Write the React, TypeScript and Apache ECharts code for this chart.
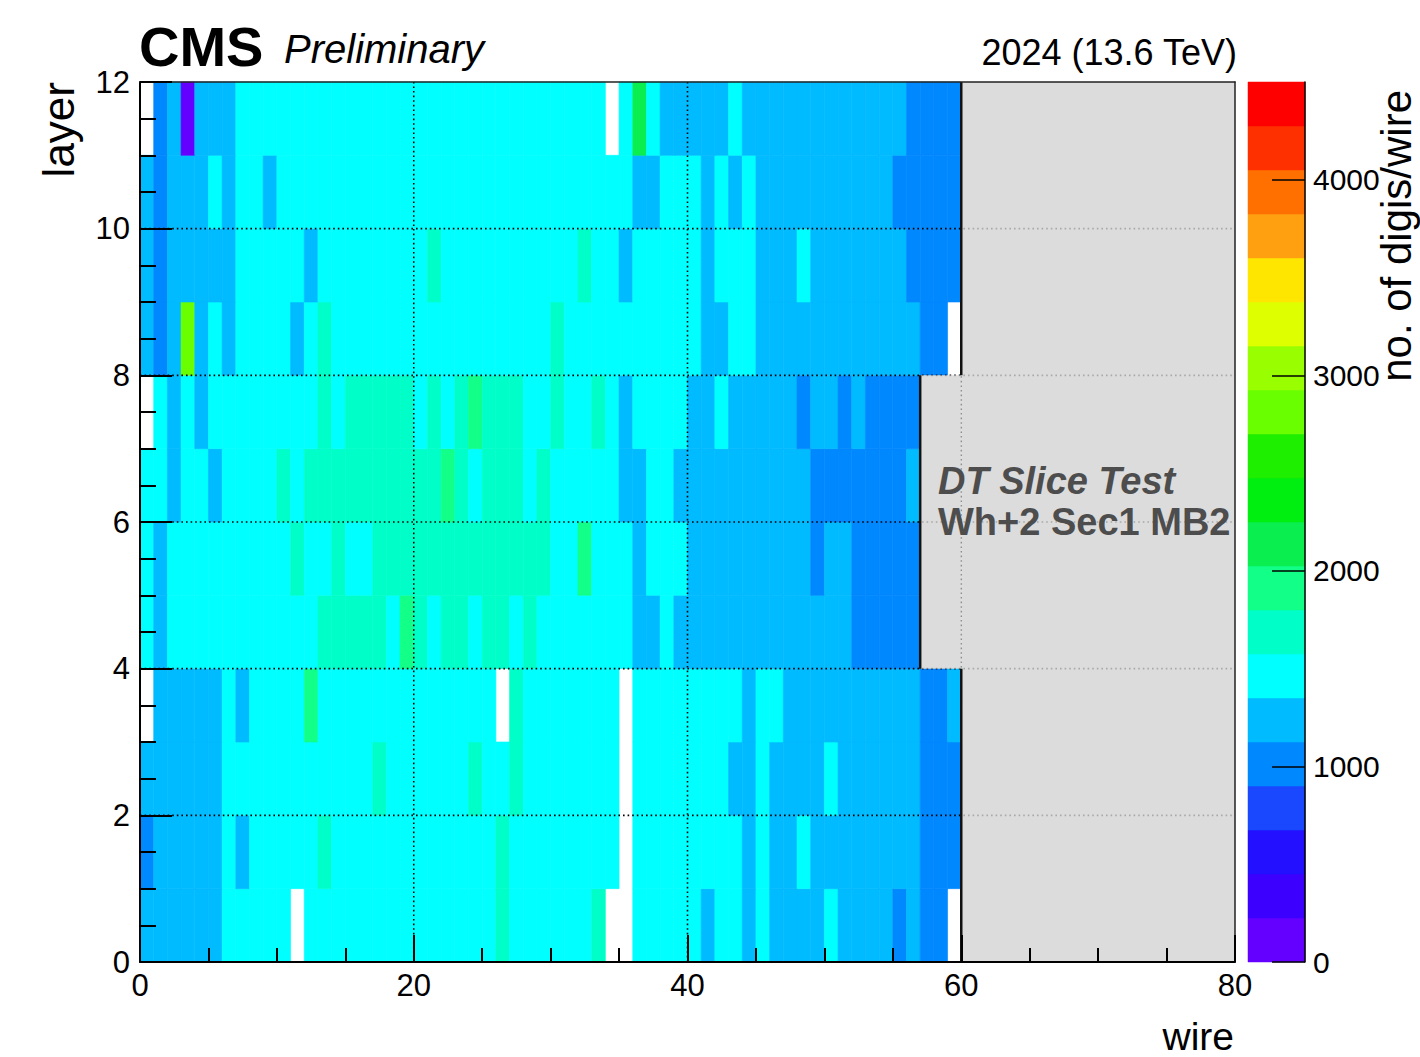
import React, { useEffect, useRef } from "react";
import * as echarts from "echarts";

// Digis per wire (band representative values).
// Index = wire (0..59). Layers 4..7 have only wires 0..56. null = empty (white) cell.
const LAYER_0 = [
  1240, 1240, 1240, 1240, 1240, 1240, 1460, 1460, 1460, 1460,
  1460, null, 1460, 1460, 1460, 1460, 1460, 1460, 1460, 1460,
  1460, 1460, 1460, 1460, 1460, 1460, 1690, 1460, 1460, 1460,
  1460, 1460, 1460, 1690, null, null, 1460, 1460, 1460, 1460,
  1460, 1240, 1460, 1460, 1240, 1460, 1240, 1240, 1240, 1240,
  1460, 1240, 1240, 1240, 1240, 1010, 1240, 1010, 1010, null,
];
const LAYER_1 = [
  1010, 1240, 1240, 1240, 1240, 1240, 1460, 1240, 1460, 1460,
  1460, 1460, 1460, 1690, 1460, 1460, 1460, 1460, 1460, 1460,
  1460, 1460, 1460, 1460, 1460, 1460, 1690, 1460, 1460, 1460,
  1460, 1460, 1460, 1460, 1460, null, 1460, 1460, 1460, 1460,
  1460, 1460, 1460, 1460, 1240, 1460, 1240, 1240, 1460, 1240,
  1240, 1240, 1240, 1240, 1240, 1240, 1240, 1010, 1010, 1010,
];
const LAYER_2 = [
  1240, 1240, 1240, 1240, 1240, 1240, 1460, 1460, 1460, 1460,
  1460, 1460, 1460, 1460, 1460, 1460, 1460, 1690, 1460, 1460,
  1460, 1460, 1460, 1460, 1690, 1460, 1460, 1690, 1460, 1460,
  1460, 1460, 1460, 1460, 1460, null, 1460, 1460, 1460, 1460,
  1460, 1460, 1460, 1240, 1240, 1460, 1240, 1240, 1240, 1240,
  1460, 1240, 1240, 1240, 1240, 1240, 1240, 1010, 1010, 1010,
];
const LAYER_3 = [
  null, 1240, 1240, 1240, 1240, 1240, 1460, 1240, 1460, 1460,
  1460, 1460, 1910, 1460, 1460, 1460, 1460, 1460, 1460, 1460,
  1460, 1460, 1460, 1460, 1460, 1460, null, 1690, 1460, 1460,
  1460, 1460, 1460, 1460, 1460, null, 1460, 1460, 1460, 1460,
  1460, 1460, 1460, 1460, 1240, 1460, 1460, 1240, 1240, 1240,
  1240, 1240, 1240, 1240, 1240, 1240, 1240, 1010, 1010, 1240,
];
const LAYER_4 = [
  1460, 1240, 1460, 1460, 1460, 1460, 1460, 1460, 1460, 1460,
  1460, 1460, 1460, 1690, 1690, 1690, 1690, 1690, 1460, 1910,
  1690, 1460, 1690, 1690, 1460, 1690, 1690, 1460, 1690, 1460,
  1460, 1460, 1460, 1460, 1460, 1460, 1240, 1240, 1460, 1240,
  1240, 1240, 1240, 1240, 1240, 1240, 1240, 1240, 1240, 1240,
  1240, 1240, 1010, 1010, 1010, 1010, 1010,
];
const LAYER_5 = [
  1460, 1240, 1460, 1460, 1460, 1460, 1460, 1460, 1460, 1460,
  1460, 1690, 1460, 1460, 1690, 1460, 1460, 1690, 1690, 1690,
  1690, 1690, 1690, 1690, 1690, 1690, 1690, 1690, 1690, 1690,
  1460, 1460, 1910, 1460, 1460, 1460, 1240, 1460, 1460, 1460,
  1240, 1240, 1240, 1240, 1240, 1240, 1240, 1240, 1240, 1010,
  1240, 1240, 1010, 1010, 1010, 1010, 1010,
];
const LAYER_6 = [
  1460, 1460, 1240, 1460, 1460, 1240, 1460, 1460, 1460, 1460,
  1690, 1460, 1690, 1690, 1690, 1690, 1690, 1690, 1690, 1690,
  1690, 1690, 1910, 1690, 1460, 1690, 1690, 1690, 1460, 1690,
  1460, 1460, 1460, 1460, 1460, 1240, 1240, 1460, 1460, 1240,
  1240, 1240, 1240, 1240, 1240, 1240, 1240, 1240, 1240, 1010,
  1010, 1010, 1010, 1010, 1010, 1010, 1240,
];
const LAYER_7 = [
  null, 1460, 1240, 1460, 1240, 1460, 1460, 1460, 1460, 1460,
  1460, 1460, 1460, 1690, 1460, 1690, 1690, 1690, 1690, 1690,
  1460, 1690, 1460, 1690, 1910, 1690, 1690, 1690, 1460, 1460,
  1690, 1460, 1460, 1690, 1460, 1240, 1460, 1460, 1460, 1460,
  1240, 1240, 1460, 1240, 1240, 1240, 1240, 1240, 1010, 1240,
  1240, 1010, 1240, 1010, 1010, 1010, 1010,
];
const LAYER_8 = [
  1240, 1010, 1240, 2810, 1240, 1460, 1240, 1460, 1460, 1460,
  1460, 1240, 1460, 1690, 1460, 1460, 1460, 1460, 1460, 1460,
  1460, 1460, 1460, 1460, 1460, 1460, 1460, 1460, 1460, 1460,
  1690, 1460, 1460, 1460, 1460, 1460, 1460, 1460, 1460, 1460,
  1460, 1240, 1240, 1460, 1460, 1240, 1240, 1240, 1240, 1240,
  1240, 1240, 1240, 1240, 1240, 1240, 1240, 1010, 1010, null,
];
const LAYER_9 = [
  1240, 1010, 1240, 1240, 1240, 1240, 1240, 1460, 1460, 1460,
  1460, 1460, 1240, 1460, 1460, 1460, 1460, 1460, 1460, 1460,
  1460, 1690, 1460, 1460, 1460, 1460, 1460, 1460, 1460, 1460,
  1460, 1460, 1690, 1460, 1460, 1240, 1460, 1460, 1460, 1460,
  1460, 1240, 1460, 1460, 1460, 1240, 1240, 1240, 1460, 1240,
  1240, 1240, 1240, 1240, 1240, 1240, 1010, 1010, 1010, 1010,
];
const LAYER_10 = [
  1240, 1010, 1240, 1240, 1240, 1460, 1240, 1460, 1460, 1240,
  1460, 1460, 1460, 1460, 1460, 1460, 1460, 1460, 1460, 1460,
  1460, 1460, 1460, 1460, 1460, 1460, 1460, 1460, 1460, 1460,
  1460, 1460, 1460, 1460, 1460, 1460, 1240, 1240, 1460, 1460,
  1460, 1240, 1460, 1240, 1460, 1240, 1240, 1240, 1240, 1240,
  1240, 1240, 1240, 1240, 1240, 1010, 1010, 1010, 1010, 1010,
];
const LAYER_11 = [
  null, 1010, 1240, 150, 1240, 1240, 1240, 1460, 1460, 1460,
  1460, 1460, 1460, 1460, 1460, 1460, 1460, 1460, 1460, 1460,
  1460, 1460, 1460, 1460, 1460, 1460, 1460, 1460, 1460, 1460,
  1460, 1460, 1460, 1460, null, 1460, 2130, 1460, 1240, 1240,
  1240, 1240, 1240, 1460, 1240, 1240, 1240, 1240, 1240, 1240,
  1240, 1240, 1240, 1240, 1240, 1240, 1010, 1010, 1010, 1010,
];
const LAYERS = [
  LAYER_0, LAYER_1, LAYER_2, LAYER_3, LAYER_4, LAYER_5,
  LAYER_6, LAYER_7, LAYER_8, LAYER_9, LAYER_10, LAYER_11,
];

// ROOT-like rainbow palette, 20 contours from 0 to 4500
const PALETTE = [
  "#6400ff", "#3c00ff", "#2210ff", "#1a48ff", "#0088ff",
  "#00bbff", "#00ffff", "#00ffc8", "#12ff88", "#0aee50",
  "#00ee10", "#1eee00", "#6aff00", "#99ff00", "#ddff00",
  "#ffe600", "#ffa010", "#ff7000", "#ff3000", "#ff0000",
];
const Z_MIN = 0;
const Z_MAX = 4500;
const Z_TICKS = [0, 1000, 2000, 3000, 4000];

const WIRE_MIN = 0;
const WIRE_MAX = 80;
const LAYER_MIN = 0;
const LAYER_MAX = 12;
const GRID_X = [20, 40, 60];
const GRID_Y = [2, 4, 6, 8, 10];
// inactive region masks [x0, x1, y0, y1] and their left edges [x1, y1, x2, y2]
const MASK_BOXES = [
  [60, 80, 0, 12],
  [57, 60, 4, 8],
];
const MASK_EDGES = [
  [60, 0, 60, 4],
  [60, 8, 60, 12],
  [57, 4, 57, 8],
];

const FONT = "Liberation Sans, Arial, Helvetica, sans-serif";

export default function App() {
  const ref = useRef<HTMLDivElement>(null);

  useEffect(() => {
    if (!ref.current) return;
    const chart = echarts.init(ref.current, undefined, { renderer: "svg" });

    const bw = (Z_MAX - Z_MIN) / PALETTE.length;
    const colorFor = (v: number) =>
      PALETTE[Math.max(0, Math.min(PALETTE.length - 1, Math.floor((v - Z_MIN) / bw)))];

    const cells: number[][] = [];
    LAYERS.forEach((row, l) =>
      row.forEach((v, w) => {
        if (v !== null && v !== undefined) cells.push([w, l, v as number]);
      })
    );
    const gridLines = [
      ...GRID_X.map((x) => [x, LAYER_MIN, x, LAYER_MAX]),
      ...GRID_Y.map((y) => [WIRE_MIN, y, WIRE_MAX, y]),
    ];
    const bands = PALETTE.map((_, i) => [Z_MIN + i * bw, Z_MIN + (i + 1) * bw, i]);

    const lineRender = (style: any) => (_p: any, api: any) => {
      const a = api.coord([api.value(0), api.value(1)]);
      const b = api.coord([api.value(2), api.value(3)]);
      return {
        type: "line",
        shape: { x1: a[0], y1: a[1], x2: b[0], y2: b[1] },
        style,
      };
    };

    const axisBlack = { color: "#000", width: 2 };

    chart.setOption({
      animation: false,
      backgroundColor: "#fff",
      grid: [
        { left: 140, top: 82, width: 1095, height: 880 },
        { left: 1248, top: 82, width: 57, height: 880 },
      ],
      xAxis: [
        {
          gridIndex: 0,
          type: "value",
          min: WIRE_MIN,
          max: WIRE_MAX,
          interval: 20,
          position: "bottom",
          z: 10,
          axisLine: { show: true, onZero: false, lineStyle: axisBlack },
          axisTick: { show: true, inside: true, length: 27, lineStyle: axisBlack },
          minorTick: { show: true, splitNumber: 4, length: 14, lineStyle: axisBlack },
          axisLabel: { color: "#000", fontSize: 31, fontFamily: FONT, margin: 8 },
          splitLine: { show: false },
        },
        {
          gridIndex: 0,
          type: "value",
          min: WIRE_MIN,
          max: WIRE_MAX,
          position: "top",
          z: 10,
          axisLine: { show: true, onZero: false, lineStyle: { color: "#222", width: 1.5 } },
          axisTick: { show: false },
          axisLabel: { show: false },
          splitLine: { show: false },
        },
        { gridIndex: 1, type: "value", min: 0, max: 1, show: false },
      ],
      yAxis: [
        {
          gridIndex: 0,
          type: "value",
          min: LAYER_MIN,
          max: LAYER_MAX,
          interval: 2,
          position: "left",
          z: 10,
          axisLine: { show: true, onZero: false, lineStyle: axisBlack },
          axisTick: { show: true, inside: true, length: 32, lineStyle: axisBlack },
          minorTick: { show: true, splitNumber: 4, length: 16, lineStyle: axisBlack },
          axisLabel: { color: "#000", fontSize: 31, fontFamily: FONT, margin: 10 },
          splitLine: { show: false },
        },
        {
          gridIndex: 0,
          type: "value",
          min: LAYER_MIN,
          max: LAYER_MAX,
          position: "right",
          z: 10,
          axisLine: { show: true, onZero: false, lineStyle: { color: "#222", width: 1.5 } },
          axisTick: { show: false },
          axisLabel: { show: false },
          splitLine: { show: false },
        },
        {
          gridIndex: 1,
          type: "value",
          min: Z_MIN,
          max: Z_MAX,
          position: "right",
          z: 10,
          axisLine: { show: true, onZero: false, lineStyle: { color: "#000", width: 1.5 } },
          axisTick: {
            show: true,
            inside: true,
            length: 33,
            customValues: Z_TICKS,
            lineStyle: { color: "#000", width: 1.5 },
          },
          axisLabel: {
            color: "#000",
            fontSize: 30,
            fontFamily: FONT,
            margin: 8,
            customValues: Z_TICKS,
            formatter: (v: number) => String(v),
          },
          splitLine: { show: false },
        },
      ],
      series: [
        {
          type: "custom",
          name: "digis",
          xAxisIndex: 0,
          yAxisIndex: 0,
          z: 1,
          data: cells,
          renderItem: (_p: any, api: any) => {
            const w = api.value(0);
            const l = api.value(1);
            const c = colorFor(api.value(2));
            const a = api.coord([w, l]);
            const b = api.coord([w + 1, l + 1]);
            return {
              type: "rect",
              shape: { x: a[0], y: b[1], width: b[0] - a[0], height: a[1] - b[1] },
              style: { fill: c, stroke: c, lineWidth: 0.6 },
            };
          },
        },
        {
          type: "custom",
          name: "grid",
          xAxisIndex: 0,
          yAxisIndex: 0,
          z: 2,
          data: gridLines,
          renderItem: lineRender({ stroke: "#000", lineWidth: 1.6, lineDash: [1.6, 3] }),
        },
        {
          type: "custom",
          name: "mask",
          xAxisIndex: 0,
          yAxisIndex: 0,
          z: 3,
          data: MASK_BOXES,
          renderItem: (_p: any, api: any) => {
            const a = api.coord([api.value(0), api.value(2)]);
            const b = api.coord([api.value(1), api.value(3)]);
            return {
              type: "rect",
              shape: { x: a[0], y: b[1], width: b[0] - a[0], height: a[1] - b[1] },
              style: { fill: "rgba(211,211,211,0.8)" },
            };
          },
        },
        {
          type: "custom",
          name: "maskEdges",
          xAxisIndex: 0,
          yAxisIndex: 0,
          z: 4,
          data: MASK_EDGES,
          renderItem: lineRender({ stroke: "#111", lineWidth: 2.5 }),
        },
        {
          type: "custom",
          name: "palette",
          xAxisIndex: 2,
          yAxisIndex: 2,
          z: 1,
          data: bands,
          renderItem: (_p: any, api: any) => {
            const a = api.coord([0, api.value(0)]);
            const b = api.coord([1, api.value(1)]);
            const c = PALETTE[api.value(2)];
            return {
              type: "rect",
              shape: { x: a[0], y: b[1], width: b[0] - a[0], height: a[1] - b[1] },
              style: { fill: c, stroke: c, lineWidth: 0.5 },
            };
          },
        },
      ],
      graphic: [
        {
          type: "text",
          x: 139,
          y: 46,
          style: {
            text: "CMS",
            fontFamily: FONT,
            fontWeight: "bold",
            fontSize: 56,
            fill: "#000",
            align: "left",
            verticalAlign: "middle",
          },
        },
        {
          type: "text",
          x: 284,
          y: 49,
          style: {
            text: "Preliminary",
            fontFamily: FONT,
            fontStyle: "italic",
            fontSize: 40,
            fill: "#000",
            align: "left",
            verticalAlign: "middle",
          },
        },
        {
          type: "text",
          x: 1237,
          y: 52,
          style: {
            text: "2024 (13.6 TeV)",
            fontFamily: FONT,
            fontSize: 36,
            fill: "#000",
            align: "right",
            verticalAlign: "middle",
          },
        },
        {
          type: "text",
          x: 58,
          y: 82,
          rotation: Math.PI / 2,
          style: {
            text: "layer",
            fontFamily: FONT,
            fontSize: 44,
            fill: "#000",
            align: "right",
            verticalAlign: "middle",
          },
        },
        {
          type: "text",
          x: 1234,
          y: 1056,
          style: {
            text: "wire",
            fontFamily: FONT,
            fontSize: 39,
            fill: "#000",
            align: "right",
            verticalAlign: "bottom",
          },
        },
        {
          type: "text",
          x: 1396,
          y: 90,
          rotation: Math.PI / 2,
          style: {
            text: "no. of digis/wire",
            fontFamily: FONT,
            fontSize: 42,
            fill: "#000",
            align: "right",
            verticalAlign: "middle",
          },
        },
        {
          type: "text",
          x: 938,
          y: 481,
          z: 20,
          style: {
            text: "DT Slice Test",
            fontFamily: FONT,
            fontWeight: "bold",
            fontStyle: "italic",
            fontSize: 38,
            fill: "#4d4d4d",
            align: "left",
            verticalAlign: "middle",
          },
        },
        {
          type: "text",
          x: 938,
          y: 522,
          z: 20,
          style: {
            text: "Wh+2 Sec1 MB2",
            fontFamily: FONT,
            fontWeight: "bold",
            fontSize: 38,
            fill: "#4d4d4d",
            align: "left",
            verticalAlign: "middle",
          },
        },
      ],
    });

    return () => chart.dispose();
  }, []);

  return (
    <div
      ref={ref}
      style={{
        position: "fixed",
        left: 0,
        top: 0,
        width: 1420,
        height: 1057,
        background: "#fff",
      }}
    />
  );
}
